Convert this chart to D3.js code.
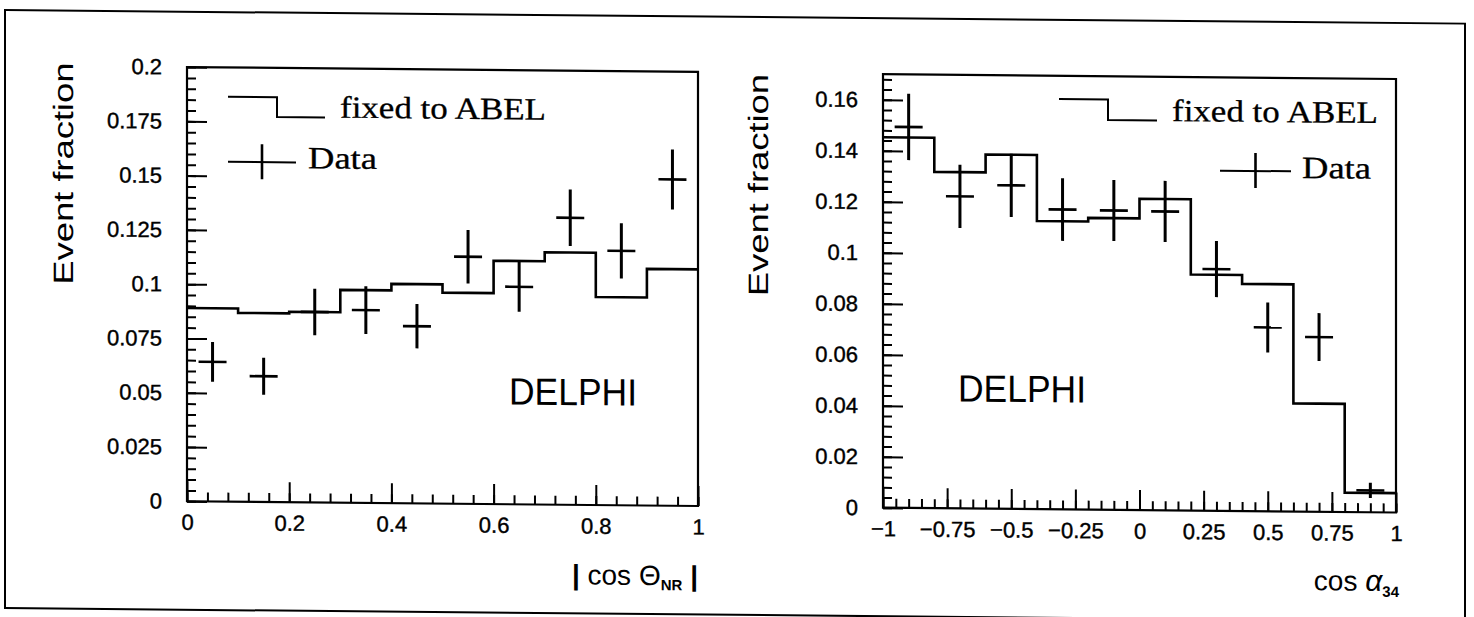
<!DOCTYPE html>
<html>
<head>
<meta charset="UTF-8">
<title>Event fraction - DELPHI</title>
<script src="https://d3js.org/d3.v7.min.js"></script>
<style>html,body{margin:0;padding:0;background:#fff;} svg{display:block;}</style>
</head>
<body>
<div id="container"></div>
<script>
// left panel: |cos Theta_NR|
const thetaCentres = [0.05, 0.15, 0.25, 0.35, 0.45, 0.55, 0.65, 0.75, 0.85, 0.95]
const thetaAbel = [0.089, 0.087, 0.0877, 0.098, 0.101, 0.0972, 0.1121, 0.1162, 0.0958, 0.109]
const thetaData = [0.0643, 0.0579, 0.0877, 0.0888, 0.0816, 0.1138, 0.1002, 0.1322, 0.1172, 0.1503]
const thetaErr = [0.0092, 0.0085, 0.0107, 0.011, 0.0102, 0.0123, 0.0115, 0.013, 0.0127, 0.0138]
const thetaXTicks = [0, 0.2, 0.4, 0.6, 0.8, 1]
const thetaXLabels = ['0', '0.2', '0.4', '0.6', '0.8', '1']
const thetaYTicks = [0, 0.025, 0.05, 0.075, 0.1, 0.125, 0.15, 0.175, 0.2]
const thetaYLabels = ['0', '0.025', '0.05', '0.075', '0.1', '0.125', '0.15', '0.175', '0.2']

// right panel: cos alpha_34
const alphaCentres = [-0.9, -0.7, -0.5, -0.3, -0.1, 0.1, 0.3, 0.5, 0.7, 0.9]
const alphaAbel = [0.1453, 0.1319, 0.1389, 0.113, 0.1144, 0.1221, 0.0926, 0.0891, 0.0424, 0.0076]
const alphaData = [0.1494, 0.1224, 0.1269, 0.1176, 0.1174, 0.1172, 0.0948, 0.0721, 0.0685, 0.0086]
const alphaErr = [0.013, 0.0124, 0.0124, 0.0123, 0.012, 0.012, 0.011, 0.0098, 0.0094, 0.003]
const alphaXTicks = [-1, -0.75, -0.5, -0.25, 0, 0.25, 0.5, 0.75, 1]
const alphaXLabels = ['\u22121', '\u22120.75', '\u22120.5', '\u22120.25', '0', '0.25', '0.5', '0.75', '1']
const alphaYTicks = [0, 0.02, 0.04, 0.06, 0.08, 0.1, 0.12, 0.14, 0.16]
const alphaYLabels = ['0', '0.02', '0.04', '0.06', '0.08', '0.1', '0.12', '0.14', '0.16']

const width = 1474, height = 617
const SANS = '"Liberation Sans", Arial, sans-serif'
const SERIF = '"Liberation Serif", "Times New Roman", serif'

const svg = d3.select('#container').append('svg')
    .attr('width', width)
    .attr('height', height)

svg.append('rect').attr('width', width).attr('height', height).attr('fill', '#fff')

// the scan is slightly skewed, right side lower
const root = svg.append('g').attr('transform', 'skewY(0.533)')

root.append('rect')
    .attr('x', 5).attr('y', 10)
    .attr('width', 1460).attr('height', 598)
    .attr('fill', 'none').attr('stroke', '#000').attr('stroke-width', 2)

function steps(lo, hi, step) {
    const n = Math.round((hi - lo) / step)
    return d3.range(n + 1).map(i => +(lo + i * step).toFixed(6))
}

function styleAxis(g) {
    g.select('.domain').remove()
    g.selectAll('.tick line').attr('stroke', '#000').attr('stroke-width', 2)
    g.selectAll('.tick text')
        .attr('fill', '#000')
        .attr('stroke', '#000')
        .attr('stroke-width', 0.4)
        .style('font-family', SANS)
        .style('font-size', '22px')
}

function panel(cfg) {
    const x = d3.scaleLinear().domain(cfg.xDomain).range([cfg.left, cfg.right])
    const y = d3.scaleLinear().domain(cfg.yDomain).range([cfg.bottom, cfg.top])
    const g = root.append('g')

    // minor ticks
    g.append('g').attr('class', 'minor-y').attr('transform', `translate(${cfg.left},0)`)
        .call(d3.axisLeft(y).tickValues(cfg.yMinor).tickSizeInner(-9).tickSizeOuter(0).tickFormat(() => ''))
        .call(styleAxis)
    g.append('g').attr('class', 'minor-x').attr('transform', `translate(0,${cfg.bottom})`)
        .call(d3.axisBottom(x).tickValues(cfg.xMinor).tickSizeInner(-9).tickSizeOuter(0).tickFormat(() => ''))
        .call(styleAxis)

    // major ticks + labels
    g.append('g').attr('class', 'major-y').attr('transform', `translate(${cfg.left},0)`)
        .call(d3.axisLeft(y).tickValues(cfg.yTicks).tickSizeInner(-20).tickSizeOuter(0).tickPadding(25)
            .tickFormat((d, i) => cfg.yLabels[i]))
        .call(styleAxis)
    g.append('g').attr('class', 'major-x').attr('transform', `translate(0,${cfg.bottom})`)
        .call(d3.axisBottom(x).tickValues(cfg.xTicks).tickSizeInner(-20).tickSizeOuter(0).tickPadding(13)
            .tickFormat((d, i) => cfg.xLabels[i]))
        .call(styleAxis)

    // frame
    g.append('rect')
        .attr('x', cfg.left).attr('y', cfg.top)
        .attr('width', cfg.right - cfg.left).attr('height', cfg.bottom - cfg.top)
        .attr('fill', 'none').attr('stroke', '#000').attr('stroke-width', 2.2)

    // ABEL histogram
    const half = cfg.binWidth / 2
    const pts = cfg.centres.map((c, i) => [c - half, cfg.abel[i]])
    pts.push([cfg.centres[cfg.centres.length - 1] + half, cfg.abel[cfg.abel.length - 1]])
    const line = d3.line().x(d => x(d[0])).y(d => y(d[1])).curve(d3.curveStepAfter)
    g.append('path')
        .attr('d', line(pts))
        .attr('fill', 'none').attr('stroke', '#000').attr('stroke-width', 2.6)

    // data crosses
    const cross = g.selectAll('.pt').data(cfg.centres).enter().append('g')
    cross.append('line')
        .attr('x1', d => x(d)).attr('x2', d => x(d))
        .attr('y1', (d, i) => y(cfg.data[i] - cfg.err[i]))
        .attr('y2', (d, i) => y(cfg.data[i] + cfg.err[i]))
        .attr('stroke', '#000').attr('stroke-width', 3)
    cross.append('line')
        .attr('x1', d => x(d) - 14).attr('x2', d => x(d) + 14)
        .attr('y1', (d, i) => y(cfg.data[i]))
        .attr('y2', (d, i) => y(cfg.data[i]))
        .attr('stroke', '#000').attr('stroke-width', 2.6)

    // y title
    g.append('text')
        .attr('transform', `translate(${cfg.yTitleX},${cfg.yTitleY}) rotate(-90)`)
        .attr('text-anchor', 'middle')
        .attr('textLength', 222).attr('lengthAdjust', 'spacingAndGlyphs')
        .style('font-family', SANS).style('font-size', '28px')
        .text('Event fraction')

    // legend
    const lg = cfg.legend
    g.append('path')
        .attr('d', `M${lg.sx0},${lg.sy0}H${lg.sx1}V${lg.sy1}H${lg.sx2}`)
        .attr('fill', 'none').attr('stroke', '#000').attr('stroke-width', 2)
    g.append('text')
        .attr('x', lg.tx).attr('y', lg.ty)
        .attr('textLength', 206).attr('lengthAdjust', 'spacingAndGlyphs')
        .attr('stroke', '#000').attr('stroke-width', 0.3)
        .style('font-family', SERIF).style('font-size', '31px')
        .text('fixed to ABEL')
    g.append('line')
        .attr('x1', lg.dx0).attr('x2', lg.dx1).attr('y1', lg.dy).attr('y2', lg.dy)
        .attr('stroke', '#000').attr('stroke-width', 2)
    g.append('line')
        .attr('x1', (lg.dx0 + lg.dx1) / 2).attr('x2', (lg.dx0 + lg.dx1) / 2)
        .attr('y1', lg.dy - 18).attr('y2', lg.dy + 17)
        .attr('stroke', '#000').attr('stroke-width', 2.6)
    g.append('text')
        .attr('x', lg.dtx).attr('y', lg.dty)
        .attr('textLength', 69).attr('lengthAdjust', 'spacingAndGlyphs')
        .attr('stroke', '#000').attr('stroke-width', 0.3)
        .style('font-family', SERIF).style('font-size', '31px')
        .text('Data')

    // experiment tag
    g.append('text')
        .attr('x', cfg.tagX).attr('y', cfg.tagY)
        .attr('textLength', 128).attr('lengthAdjust', 'spacingAndGlyphs')
        .style('font-family', SANS).style('font-size', '38px')
        .text('DELPHI')

    return g
}

const left = panel({
    left: 187, right: 698, top: 65.3, bottom: 499.5,
    xDomain: [0, 1], yDomain: [0, 0.2],
    xTicks: thetaXTicks, xLabels: thetaXLabels, xMinor: steps(0, 1, 0.04),
    yTicks: thetaYTicks, yLabels: thetaYLabels, yMinor: steps(0, 0.2, 0.005),
    centres: thetaCentres, binWidth: 0.1, abel: thetaAbel, data: thetaData, err: thetaErr,
    yTitleX: 73, yTitleY: 173,
    legend: { sx0: 228, sx1: 277, sy0: 94.7, sy1: 114.5, sx2: 325, tx: 340, ty: 114.5,
              dx0: 228, dx1: 296, dy: 159.7, dtx: 308, dty: 165.5 },
    tagX: 509, tagY: 399.7
})

const right = panel({
    left: 883, right: 1396, top: 66, bottom: 499.5,
    xDomain: [-1, 1], yDomain: [0, 0.17],
    xTicks: alphaXTicks, xLabels: alphaXLabels, xMinor: steps(-1, 1, 0.05),
    yTicks: alphaYTicks, yLabels: alphaYLabels, yMinor: steps(0, 0.168, 0.004),
    centres: alphaCentres, binWidth: 0.2, abel: alphaAbel, data: alphaData, err: alphaErr,
    yTitleX: 768, yTitleY: 178,
    legend: { sx0: 1059, sx1: 1108, sy0: 89.1, sy1: 109.8, sx2: 1157, tx: 1172, ty: 110.2,
              dx0: 1220, dx1: 1291, dy: 159.3, dtx: 1302, dty: 165.9 },
    tagX: 958, tagY: 392.5
})

// x-axis titles
const t1 = root.append('text')
    .attr('x', 698).attr('y', 579).attr('text-anchor', 'end')
    .style('font-family', SANS).style('font-size', '28px')
t1.append('tspan').style('font-weight', 'bold').text('| ')
t1.append('tspan').text('cos \u0398')
t1.append('tspan').attr('dy', 5).style('font-size', '15px').style('font-weight', 'bold').text('NR')
t1.append('tspan').attr('dy', -5).style('font-weight', 'bold').text(' |')

const t2 = root.append('text')
    .attr('x', 1399).attr('y', 578).attr('text-anchor', 'end')
    .style('font-family', SANS).style('font-size', '28px')
t2.append('tspan').text('cos ')
t2.append('tspan').style('font-style', 'italic').style('font-size', '30px').text('\u03b1')
t2.append('tspan').attr('dy', 6).style('font-size', '15px').style('font-weight', 'bold').text('34')
</script>
</body>
</html>
